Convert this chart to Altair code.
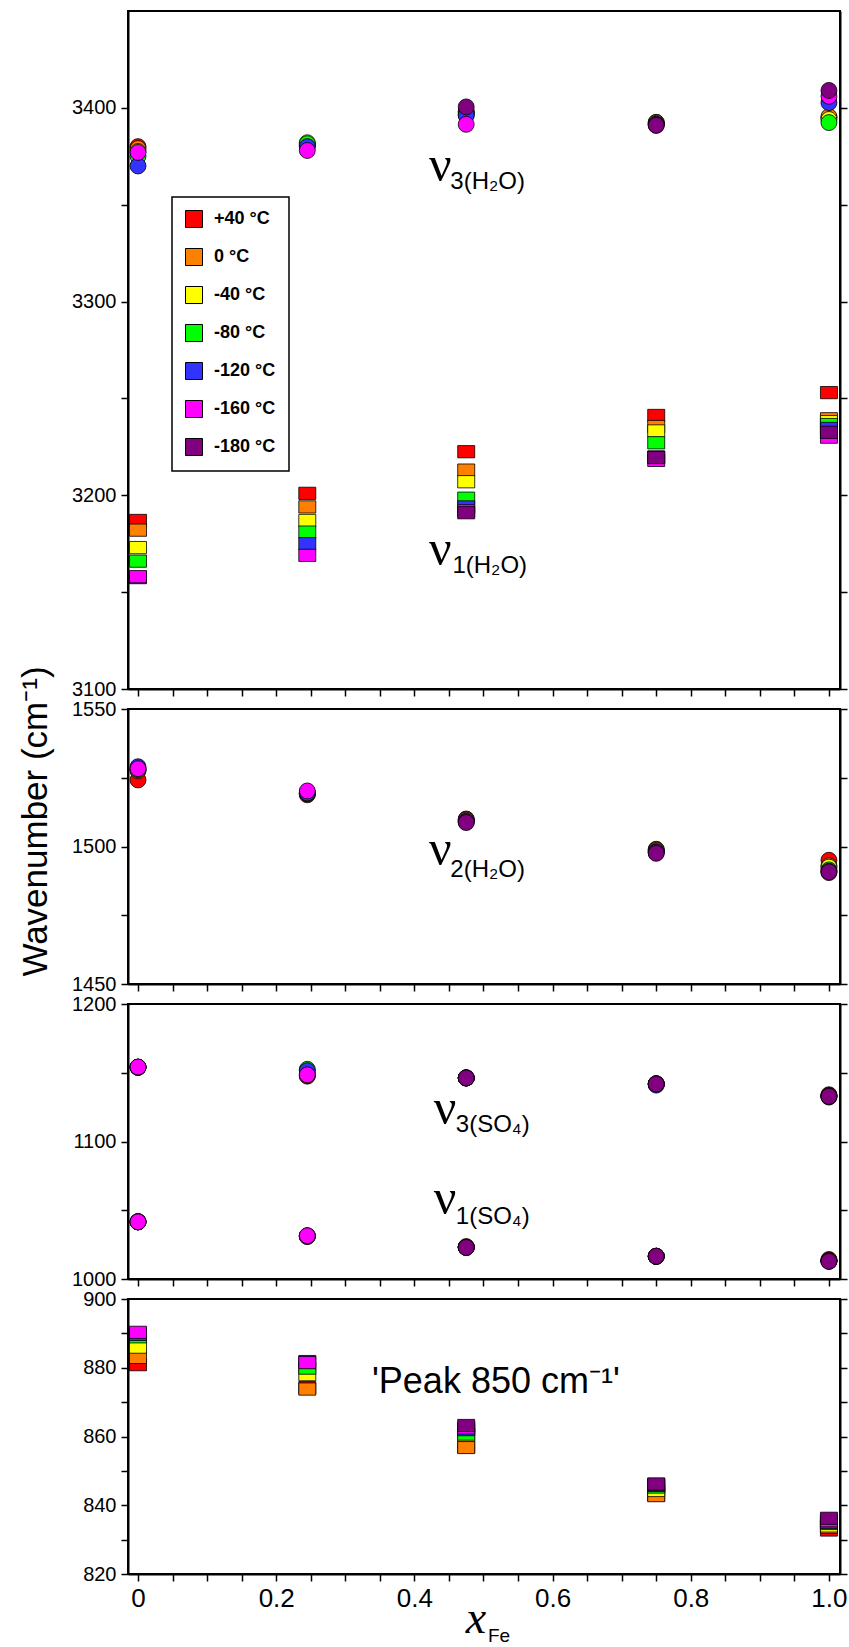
import altair as alt
import pandas as pd

# ---------------- data ----------------
x_fe = [0.0, 0.245, 0.475, 0.75, 1.0]
temps = ["+40 °C", "0 °C", "-40 °C", "-80 °C", "-120 °C", "-160 °C", "-180 °C"]
colors = ["#ff0000", "#ff8000", "#ffff00", "#00ff00", "#3333ff", "#ff00ff", "#800080"]

# nu3(H2O) - circles, top panel
nu3_h2o = {
    "+40 °C": [3380.0, 3380.5, 3398.0, 3392.5, 3395.0],
    "0 °C": [3379.0, 3381.0, 3398.0, 3392.5, 3395.5],
    "-40 °C": [3377.5, 3382.0, 3397.0, 3392.0, 3394.0],
    "-80 °C": [3375.0, 3381.5, 3396.5, 3391.5, 3392.4],
    "-120 °C": [3370.0, 3380.0, 3396.0, 3391.5, 3402.7],
    "-160 °C": [3377.0, 3378.0, 3391.5, 3391.0, 3406.0],
    "-180 °C": [None, None, 3400.5, 3391.0, 3409.0],
}
# nu1(H2O) - squares, top panel
nu1_h2o = {
    "+40 °C": [3187.0, 3201.0, 3222.5, 3241.2, 3253.0],
    "0 °C": [3182.0, 3194.0, 3213.0, 3235.5, 3239.5],
    "-40 °C": [3173.0, 3187.0, 3207.0, 3233.2, 3238.0],
    "-80 °C": [3166.0, 3181.0, 3198.5, 3227.1, 3236.5],
    "-120 °C": [3157.5, 3175.0, 3194.0, 3219.8, 3234.5],
    "-160 °C": [3158.0, 3169.0, 3192.0, 3218.0, 3230.0],
    "-180 °C": [None, None, 3191.0, 3219.5, 3232.5],
}
# nu2(H2O) - circles, second panel
nu2_h2o = {
    "+40 °C": [1524.2, 1518.8, 1510.0, 1499.0, 1495.0],
    "0 °C": [1527.5, 1519.2, 1509.8, 1498.8, 1493.0],
    "-40 °C": [1528.0, 1519.3, 1509.6, 1498.5, 1492.5],
    "-80 °C": [1528.0, 1519.4, 1509.3, 1498.2, 1491.5],
    "-120 °C": [1529.0, 1519.5, 1509.0, 1498.0, 1491.0],
    "-160 °C": [1528.3, 1520.2, 1509.0, 1497.8, 1490.5],
    "-180 °C": [None, None, 1508.7, 1497.5, 1490.8],
}
# nu3(SO4) - circles, third panel
nu3_so4 = {
    "+40 °C": [1154.0, 1147.5, 1146.3, 1142.0, 1134.0],
    "0 °C": [1154.0, 1148.0, 1146.3, 1142.0, 1133.5],
    "-40 °C": [1154.0, 1149.5, 1146.2, 1141.9, 1133.0],
    "-80 °C": [1154.0, 1152.5, 1146.2, 1141.9, 1132.3],
    "-120 °C": [1154.0, 1151.5, 1146.2, 1141.0, 1133.0],
    "-160 °C": [1154.2, 1148.5, 1146.2, 1141.8, 1133.0],
    "-180 °C": [None, None, 1146.2, 1141.8, 1132.8],
}
# nu1(SO4) - circles, third panel
nu1_so4 = {
    "+40 °C": [1041.8, 1031.3, 1023.2, 1016.6, 1014.2],
    "0 °C": [1041.6, 1031.3, 1023.3, 1016.6, 1013.5],
    "-40 °C": [1041.6, 1031.3, 1023.6, 1016.5, 1013.3],
    "-80 °C": [1041.5, 1030.8, 1023.0, 1016.5, 1013.0],
    "-120 °C": [1041.5, 1031.2, 1023.0, 1016.5, 1013.0],
    "-160 °C": [1041.6, 1031.5, 1023.0, 1016.5, 1013.0],
    "-180 °C": [None, None, 1022.9, 1016.5, 1012.8],
}
# 'Peak 850 cm-1' - squares, bottom panel
peak_850 = {
    "+40 °C": [880.9, 874.2, 857.0, 843.0, 832.8],
    "0 °C": [883.0, 873.8, 856.8, 842.8, 833.6],
    "-40 °C": [886.0, 878.0, 860.3, 844.3, 834.0],
    "-80 °C": [889.0, 879.9, 860.7, 845.3, 834.7],
    "-120 °C": [889.7, 881.8, 862.0, 845.8, 835.0],
    "-160 °C": [890.3, 881.5, 862.5, 846.0, 835.5],
    "-180 °C": [None, None, 863.2, 846.2, 836.2],
}

# axis tick positions and labels
x_ticks = [round(i * 0.05, 2) for i in range(21)]
y_ticks_1 = list(range(3100, 3401, 50))
y_ticks_2 = list(range(1450, 1551, 25))
y_ticks_3 = list(range(1000, 1201, 50))
y_ticks_4 = list(range(820, 901, 10))

# annotation labels
ann_1_nu = ["ν", "ν"]
ann_1_sub = ["3(H₂O)", "1(H₂O)"]
ann_1_x = [0.421, 0.421]
ann_1_y = [3362.3, 3164.2]
ann_1_sx = [0.452, 0.455]
ann_1_sy = [3358.2, 3159.9]

ann_2_nu = ["ν"]
ann_2_sub = ["2(H₂O)"]
ann_2_x = [0.421]
ann_2_y = [1493.3]
ann_2_sx = [0.452]
ann_2_sy = [1489.0]

ann_3_nu = ["ν", "ν"]
ann_3_sub = ["3(SO₄)", "1(SO₄)"]
ann_3_x = [0.428, 0.428]
ann_3_y = [1112.7, 1047.3]
ann_3_sx = [0.46, 0.46]
ann_3_sy = [1106.7, 1040.0]

ann_4_txt = ["'Peak 850 cm⁻¹'"]
ann_4_x = [0.3386]
ann_4_y = [872.6]

X_DOMAIN = [-0.0145, 1.016]
W = 712
SANS = "Liberation Sans"
SERIF = "Liberation Serif"
CIRCLE = "circle"
RECT = "M-1,-0.72H1V0.72H-1Z"


def tidy(band):
    rows = []
    for t in temps:
        for x, v in zip(x_fe, band[t]):
            if v is not None:
                rows.append({"x_fe": x, "wn": v, "temp": t})
    return pd.DataFrame(rows)


color_scale = alt.Scale(domain=temps, range=colors)

legend_1 = alt.Legend(
    title=None, orient="none", legendX=44, legendY=186,
    symbolType="square", symbolSize=289, symbolStrokeColor="black",
    symbolStrokeWidth=1, labelFont=SANS, labelFontSize=18,
    labelFontWeight="bold", labelColor="black", labelOffset=11,
    padding=13, rowPadding=16, strokeColor="black", fillColor="white",
)


def x_enc(last):
    kw = dict(values=x_ticks, title=None, tickSize=7, tickWidth=1.5,
              domainWidth=2, domainColor="black", tickColor="black",
              grid=False, labelOverlap=False, labelFlush=False)
    if last:
        kw.update(labels=True, labelFont=SANS, labelFontSize=26,
                  labelColor="black", labelPadding=4,
                  labelExpr="(abs(datum.value*5 - round(datum.value*5)) < 0.001) ? "
                            "(datum.value < 0.01 ? '0' : format(datum.value, '.1f')) : ''")
    else:
        kw.update(labels=False)
    return alt.X("x_fe:Q", scale=alt.Scale(domain=X_DOMAIN, nice=False, zero=False),
                 axis=alt.Axis(**kw))


def y_scale(lo, hi):
    return alt.Scale(domain=[lo, hi], nice=False, zero=False)


def left_axis(ticks, step, **extra):
    title = extra.pop("title", None)
    return alt.Axis(values=ticks, format="d", title=title,
                    labelExpr=f"datum.value % {step} == 0 ? datum.label : ''",
                    tickSize=7, tickWidth=1.5, domainWidth=2, domainColor="black",
                    tickColor="black", labelFont=SANS, labelFontSize=20,
                    labelColor="black", labelPadding=5, grid=False,
                    labelOverlap=False, **extra)


def right_axis(ticks):
    return alt.Axis(orient="right", values=ticks, labels=False, title=None,
                    tickSize=7, tickWidth=1.5, domainWidth=2, domainColor="black",
                    tickColor="black", grid=False)


def points(band, shape, size, ys, axis, last, legend):
    return alt.Chart(tidy(band)).mark_point(
        shape=shape, filled=True, size=size, opacity=1,
        stroke="black", strokeWidth=0.8,
    ).encode(
        x=x_enc(last),
        y=alt.Y("wn:Q", scale=ys, axis=axis),
        color=alt.Color("temp:N", scale=color_scale, legend=legend),
    )


def right_layer(band, ys, ticks, last):
    return alt.Chart(tidy(band)).mark_point(opacity=0).encode(
        x=x_enc(last),
        y=alt.Y("wn:Q", scale=ys, axis=right_axis(ticks)),
    )


def nu_layers(nus, xs, ysv, subs, sxs, sys_, ys, last=False):
    d1 = pd.DataFrame({"x_fe": xs, "wn": ysv, "txt": nus})
    d2 = pd.DataFrame({"x_fe": sxs, "wn": sys_, "txt": subs})
    t1 = alt.Chart(d1).mark_text(align="left", baseline="alphabetic", font=SERIF,
                                 fontSize=50, color="black").encode(
        x=x_enc(last), y=alt.Y("wn:Q", scale=ys, axis=None), text="txt:N")
    t2 = alt.Chart(d2).mark_text(align="left", baseline="alphabetic", font=SANS,
                                 fontSize=24, color="black").encode(
        x=x_enc(last), y=alt.Y("wn:Q", scale=ys, axis=None), text="txt:N")
    return [t1, t2]


H1, H = 678, 275

# ---------------- panel 1 ----------------
ys1 = y_scale(3100, 3450)
p1 = alt.layer(
    points(nu3_h2o, CIRCLE, 254, ys1, left_axis(y_ticks_1, 100), False, legend_1),
    points(nu1_h2o, RECT, 289, ys1, None, False, legend_1),
    right_layer(nu3_h2o, ys1, y_ticks_1, False),
    *nu_layers(ann_1_nu, ann_1_x, ann_1_y, ann_1_sub, ann_1_sx, ann_1_sy, ys1),
).resolve_axis(y="independent").properties(width=W, height=H1)

# ---------------- panel 2 ----------------
ys2 = y_scale(1450, 1550)
p2 = alt.layer(
    points(nu2_h2o, CIRCLE, 254, ys2,
           left_axis(y_ticks_2, 50, title="Wavenumber (cm⁻¹)", titleFont=SANS,
                     titleFontSize=35, titleFontWeight="normal", titleColor="black",
                     titleAngle=270, titleAlign="center", titleBaseline="middle",
                     titleX=-93, titleY=112),
           False, None),
    right_layer(nu2_h2o, ys2, y_ticks_2, False),
    *nu_layers(ann_2_nu, ann_2_x, ann_2_y, ann_2_sub, ann_2_sx, ann_2_sy, ys2),
).resolve_axis(y="independent").properties(width=W, height=H)

# ---------------- panel 3 ----------------
ys3 = y_scale(1000, 1200)
p3 = alt.layer(
    points(nu3_so4, CIRCLE, 254, ys3, left_axis(y_ticks_3, 100), False, None),
    points(nu1_so4, CIRCLE, 254, ys3, None, False, None),
    right_layer(nu3_so4, ys3, y_ticks_3, False),
    *nu_layers(ann_3_nu, ann_3_x, ann_3_y, ann_3_sub, ann_3_sx, ann_3_sy, ys3),
).resolve_axis(y="independent").properties(width=W, height=H)

# ---------------- panel 4 ----------------
ys4 = y_scale(820, 900)
peak_text = alt.Chart(pd.DataFrame({"x_fe": ann_4_x, "wn": ann_4_y, "txt": ann_4_txt})).mark_text(
    align="left", baseline="alphabetic", font=SANS, fontSize=36, color="black"
).encode(x=x_enc(True), y=alt.Y("wn:Q", scale=ys4, axis=None), text="txt:N")

xt_main = alt.Chart(pd.DataFrame({"txt": ["x"]})).mark_text(
    align="center", baseline="alphabetic", font=SERIF, fontStyle="italic",
    fontSize=46, color="black"
).encode(x=alt.value(348), y=alt.value(334), text="txt:N")
xt_sub = alt.Chart(pd.DataFrame({"txt": ["Fe"]})).mark_text(
    align="left", baseline="alphabetic", font=SANS, fontSize=19, color="black"
).encode(x=alt.value(360), y=alt.value(343), text="txt:N")

p4 = alt.layer(
    points(peak_850, RECT, 289, ys4, left_axis(y_ticks_4, 20), True, None),
    right_layer(peak_850, ys4, y_ticks_4, True),
    peak_text, xt_main, xt_sub,
).resolve_axis(y="independent").properties(width=W, height=H)

chart = alt.vconcat(p1, p2, p3, p4, spacing=20, bounds="flush").resolve_scale(
    color="independent"
).resolve_legend(color="independent").properties(
    padding={"left": 16, "top": 10, "right": 0, "bottom": 0},
    background="white",
).configure_view(stroke="black", strokeWidth=2).configure_legend(strokeWidth=1.5)

chart.save("out.html", embed_options={"renderer": "svg", "actions": False})
